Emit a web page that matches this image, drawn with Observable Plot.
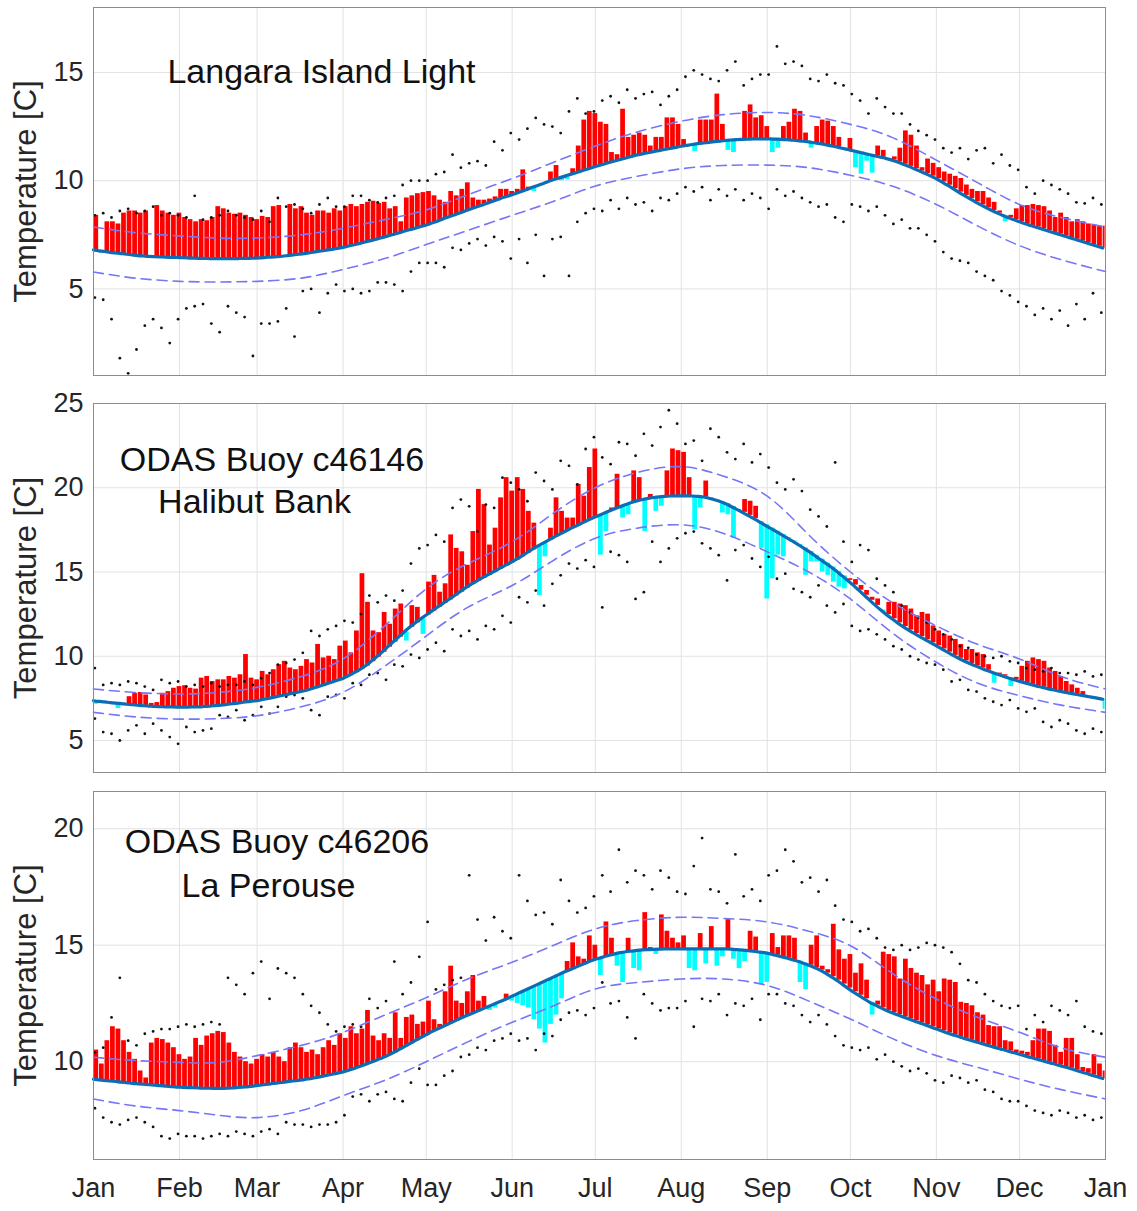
<!DOCTYPE html>
<html><head><meta charset="utf-8">
<script src="https://cdn.jsdelivr.net/npm/d3@7"></script>
<script src="https://cdn.jsdelivr.net/npm/@observablehq/plot@0.6"></script>
<style>body{margin:0;background:#fff}#chart{width:1137px}#chart svg{display:block}</style>
</head><body><div id="chart"></div>
<script>
// ---- shared axes ----
const monthDays = [0,31,59,90,120,151,181,212,243,273,304,334,365];
const monthNames = ["Jan","Feb","Mar","Apr","May","Jun","Jul","Aug","Sep","Oct","Nov","Dec","Jan"];
const dashDays = [0,15,31,45,59,75,90,105,120,135,151,166,181,196,212,227,243,258,273,288,304,319,334,349,365];
const barStep = 2;   // observed / climatology every 2 days (day 0,2,...,364)
const dotStep = 3;   // record dots every 3 days (day 0,3,...,363)

// ---- Langara Island Light ----
const langaraObs = [
8.4,null,8.1,8.1,8.0,8.5,8.6,8.6,8.5,8.6,
null,8.85,8.6,8.5,8.4,8.5,8.3,8.2,8.1,8.2,
8.15,8.3,8.8,8.7,8.5,8.45,8.5,8.4,8.3,8.2,
8.35,8.3,8.8,8.85,null,8.9,8.7,8.8,8.5,8.4,
8.6,8.6,8.5,8.7,8.6,8.8,8.9,8.8,8.9,9.0,
9.05,8.95,9.0,8.7,8.8,8.1,9.2,9.3,9.4,9.45,
9.5,9.3,9.1,9.0,9.5,9.3,9.6,9.9,9.2,9.1,
9.1,9.15,9.25,9.6,9.6,9.5,9.6,10.5,9.7,9.5,
9.8,9.9,10.4,10.7,10.0,10.05,10.55,11.6,12.8,13.2,
13.1,12.7,12.6,11.3,11.2,13.3,12.0,12.1,12.2,12.1,
11.6,12.0,12.0,12.9,12.9,12.6,11.9,11.6,11.35,12.8,
12.8,12.8,14.0,12.6,11.4,11.3,11.85,13.2,13.5,12.9,
13.0,12.5,11.3,11.5,12.5,12.7,13.3,13.2,12.2,11.5,
12.5,12.8,12.75,12.5,12.0,11.4,11.95,10.6,10.3,10.9,
10.35,11.6,11.4,11.0,11.1,11.5,12.3,12.1,11.6,10.6,
11.0,10.8,10.6,10.4,10.3,10.2,10.1,9.8,9.6,9.5,
9.5,9.2,9.0,8.6,8.1,8.4,8.7,8.85,8.85,8.9,
8.85,8.8,8.6,8.3,8.5,8.3,8.1,8.2,8.1,8.0,
7.95,7.9,7.9];
const langaraClim = [
6.80,6.76,6.73,6.69,6.66,6.63,6.60,6.57,6.54,6.52,
6.50,6.49,6.48,6.47,6.46,6.45,6.44,6.43,6.42,6.41,
6.41,6.40,6.40,6.40,6.40,6.40,6.40,6.41,6.41,6.42,
6.43,6.45,6.47,6.49,6.51,6.54,6.57,6.60,6.63,6.67,
6.71,6.75,6.79,6.83,6.87,6.92,6.98,7.04,7.10,7.17,
7.23,7.30,7.37,7.44,7.51,7.58,7.66,7.73,7.80,7.88,
7.95,8.04,8.13,8.23,8.32,8.41,8.51,8.60,8.69,8.78,
8.87,8.96,9.05,9.14,9.23,9.31,9.40,9.49,9.58,9.68,
9.77,9.86,9.96,10.05,10.13,10.21,10.29,10.37,10.45,10.53,
10.61,10.69,10.76,10.84,10.91,10.98,11.05,11.12,11.19,11.24,
11.29,11.34,11.39,11.44,11.49,11.54,11.59,11.63,11.67,11.71,
11.74,11.77,11.80,11.83,11.86,11.88,11.90,11.91,11.92,11.93,
11.93,11.93,11.93,11.92,11.91,11.89,11.87,11.85,11.82,11.79,
11.75,11.71,11.66,11.61,11.56,11.50,11.44,11.38,11.32,11.26,
11.20,11.14,11.08,11.02,10.95,10.86,10.76,10.66,10.55,10.44,
10.33,10.21,10.09,9.94,9.79,9.63,9.47,9.32,9.17,9.02,
8.88,8.75,8.62,8.50,8.39,8.29,8.19,8.10,8.01,7.93,
7.85,7.77,7.69,7.61,7.53,7.45,7.37,7.29,7.21,7.13,
7.05,6.97,6.89];
const langaraHi = [
8.4,8.5,8.3,8.6,8.7,8.5,8.6,8.8,8.4,8.5,
8.4,8.3,9.3,8.2,8.3,8.4,8.6,8.4,8.3,8.2,
8.6,8.1,9.2,8.8,8.9,8.7,8.5,8.9,9.2,8.8,
8.8,9.3,9.3,9.1,9.0,9.2,9.3,9.8,10.0,10.0,
10.0,10.3,10.4,11.2,10.6,10.8,10.9,10.7,11.8,11.4,
12.2,11.9,12.4,12.9,12.6,12.5,12.2,13.2,13.8,13.1,
13.2,13.7,13.9,13.6,14.2,13.8,14.0,14.1,13.5,13.9,
14.2,14.8,15.1,14.9,14.7,14.6,15.1,15.5,14.4,14.7,
14.9,14.9,16.2,15.4,15.5,15.3,14.7,14.6,14.9,14.5,
14.4,14.0,13.7,13.1,13.8,13.4,13.1,13.1,12.6,12.3,
12.1,11.9,11.5,11.3,11.5,11.0,11.4,11.5,10.8,11.2,
10.7,10.5,9.7,9.4,10.0,9.8,9.6,9.4,9.0,8.95,
9.2,8.9];
const langaraLo = [
4.6,4.5,3.6,1.8,1.1,2.2,3.3,3.6,3.2,2.5,
3.6,4.1,4.2,4.3,3.4,3.0,4.2,3.9,3.7,1.9,
3.4,3.4,3.5,4.1,2.8,4.9,5.0,3.9,4.8,5.2,
4.9,5.0,4.8,4.9,5.3,5.3,5.2,4.9,5.8,6.2,
6.2,6.2,6.0,6.9,6.8,7.1,7.3,7.0,7.4,7.2,
6.4,7.3,6.2,7.5,5.6,7.3,7.4,5.6,8.1,8.5,
8.7,8.6,9.1,8.7,9.2,8.9,9.0,8.6,9.2,9.1,
9.4,9.7,9.5,9.7,9.1,9.6,9.3,9.6,9.1,9.4,
9.2,8.7,9.6,9.3,9.5,9.2,9.0,8.8,8.9,8.3,
8.1,8.9,8.8,8.6,8.8,8.4,8.0,8.2,7.8,7.8,
7.5,7.2,6.7,6.4,6.3,6.2,5.8,5.6,5.4,4.9,
4.7,4.4,4.2,3.8,4.1,3.6,4.0,3.3,4.3,3.6,
4.8,3.9];
const langaraUpper = [7.86,7.6,7.45,7.35,7.35,7.5,7.8,8.2,8.65,9.35,10.1,10.85,11.6,12.25,12.75,13.05,13.15,13.0,12.6,12.0,10.95,9.9,8.9,8.3,7.86];
const langaraLower = [5.78,5.5,5.35,5.32,5.35,5.5,5.9,6.4,7.05,7.7,8.4,9.05,9.75,10.2,10.55,10.7,10.72,10.6,10.25,9.75,8.9,7.9,7.0,6.35,5.8];

// ---- ODAS Buoy c46146 Halibut Bank ----
const halibutObs = [
7.15,null,null,null,6.9,null,7.6,7.8,7.85,7.7,
7.2,7.25,7.8,7.9,8.1,8.2,8.25,8.1,8.05,8.7,
8.8,8.5,8.6,8.6,8.8,8.7,8.9,10.1,8.7,8.6,
9.1,8.9,9.2,9.5,9.7,9.3,9.2,9.4,9.8,9.6,
10.7,9.9,10.0,9.8,10.6,10.9,10.2,11.5,14.9,13.2,
11.5,11.4,12.6,11.9,12.8,13.1,10.9,13.0,12.9,11.3,
14.4,14.8,13.8,14.3,17.2,16.4,16.2,15.4,17.4,19.9,
19.0,16.6,17.6,19.4,20.6,19.8,20.6,19.9,18.6,17.9,
13.6,15.9,17.6,19.4,18.6,18.2,18.2,20.2,19.5,21.2,
22.3,16.0,17.4,18.8,20.8,18.2,18.4,21.0,20.6,17.4,
19.6,18.6,18.9,21.0,22.3,22.2,22.1,20.6,17.5,18.8,
20.4,19.4,19.2,18.5,18.4,17.0,18.6,19.3,19.2,18.9,
16.4,13.4,14.6,16.0,15.9,17.0,16.8,16.5,14.8,15.6,
15.6,15.0,14.8,14.4,14.1,14.0,14.6,14.55,14.2,13.9,
13.5,13.4,12.6,13.2,13.2,13.1,13.0,12.8,12.4,12.6,
12.5,11.8,11.5,11.3,11.2,11.0,10.7,10.4,10.4,10.2,
10.1,9.5,8.4,9.0,8.9,8.2,8.75,9.4,9.7,9.9,
9.8,9.7,9.3,9.1,8.8,8.5,8.3,8.1,7.9,7.5,
7.55,7.4,6.85];
const halibutClim = [
7.36,7.32,7.29,7.25,7.22,7.19,7.15,7.12,7.09,7.06,
7.04,7.02,7.01,7.00,6.99,6.98,6.98,6.98,6.99,7.00,
7.02,7.04,7.07,7.10,7.14,7.18,7.22,7.27,7.31,7.35,
7.40,7.46,7.53,7.60,7.67,7.74,7.81,7.88,7.95,8.04,
8.14,8.25,8.36,8.47,8.58,8.68,8.85,9.03,9.21,9.42,
9.68,9.95,10.24,10.54,10.84,11.14,11.44,11.72,11.98,12.22,
12.45,12.68,12.91,13.13,13.35,13.58,13.81,14.04,14.25,14.44,
14.63,14.81,14.99,15.17,15.35,15.52,15.70,15.90,16.11,16.32,
16.52,16.70,16.88,17.06,17.23,17.40,17.57,17.73,17.89,18.05,
18.20,18.34,18.48,18.62,18.76,18.88,19.00,19.12,19.22,19.30,
19.37,19.42,19.46,19.49,19.51,19.52,19.52,19.52,19.51,19.49,
19.45,19.38,19.29,19.18,19.05,18.89,18.72,18.54,18.36,18.18,
17.99,17.80,17.61,17.42,17.23,17.04,16.84,16.64,16.43,16.22,
15.99,15.76,15.53,15.30,15.04,14.77,14.50,14.22,13.92,13.62,
13.32,13.02,12.74,12.47,12.22,11.98,11.76,11.55,11.35,11.16,
10.98,10.80,10.62,10.43,10.24,10.05,9.88,9.72,9.57,9.43,
9.30,9.17,9.05,8.93,8.82,8.71,8.61,8.51,8.42,8.33,
8.24,8.16,8.08,8.01,7.94,7.87,7.81,7.75,7.69,7.63,
7.57,7.51,7.45];
const halibutHi = [
9.3,8.3,8.4,8.3,8.5,8.4,8.2,8.0,8.6,8.4,
8.5,8.2,8.3,8.2,8.4,8.2,8.3,8.3,8.5,8.3,
8.7,9.0,9.5,9.6,9.8,10.2,11.5,11.2,11.6,11.8,
12.1,12.0,12.5,13.6,13.2,13.6,13.3,13.9,15.5,16.4,
16.6,17.2,16.8,18.8,19.3,18.9,17.4,19.0,18.8,20.6,
20.3,19.9,19.2,20.9,20.4,19.9,21.6,21.3,20.2,22.3,
23.0,21.8,21.4,22.7,22.6,21.9,23.2,22.5,23.6,24.6,
23.8,22.6,22.8,21.6,23.5,23.0,22.1,21.7,22.6,21.5,
22.0,21.2,20.3,19.9,20.5,19.8,18.7,18.3,17.7,21.5,
16.8,15.6,16.6,16.3,14.6,14.2,13.8,13.0,12.6,12.3,
12.0,11.6,11.3,11.0,10.6,10.5,10.1,10.0,9.9,10.0,
9.7,9.6,9.3,9.2,9.1,9.3,9.0,9.0,8.9,9.1,
8.8,8.9];
const halibutLo = [
6.3,5.5,5.4,5.0,5.6,5.9,5.4,6.0,5.6,5.2,
4.8,5.8,5.5,5.6,5.7,6.5,6.4,6.8,6.2,6.5,
7.0,6.6,7.0,7.6,7.7,7.5,6.8,6.5,7.6,7.7,
7.5,8.4,8.3,8.9,9.0,8.6,9.5,9.4,10.1,9.9,
10.4,10.8,10.3,11.6,11.2,11.5,11.0,11.8,11.6,12.4,
12.0,13.5,13.2,13.9,13.0,14.3,14.8,15.5,15.2,15.7,
15.3,12.9,16.2,16.0,15.6,13.4,13.8,16.8,15.6,16.4,
17.0,17.3,17.4,16.7,16.4,16.0,14.5,16.3,16.6,15.8,
15.3,15.9,14.6,14.9,14.0,13.8,13.5,14.2,13.0,12.6,
13.1,11.8,11.5,11.6,11.3,11.0,10.6,10.4,10.0,9.8,
9.6,9.5,9.2,8.5,8.6,8.0,7.9,7.5,7.3,7.1,
7.4,6.9,6.7,6.9,6.1,5.8,6.2,6.0,5.6,5.4,
5.7,5.5];
const halibutUpper = [8.06,7.85,7.76,7.85,8.15,8.8,9.84,11.8,14.0,15.5,16.8,18.5,20.0,20.9,21.25,20.7,19.5,17.2,15.0,13.2,11.8,10.7,9.84,8.8,8.06];
const halibutLower = [6.67,6.4,6.27,6.3,6.47,7.0,7.86,9.4,11.2,12.9,14.2,15.7,17.0,17.6,17.8,17.3,16.2,15.0,13.4,11.4,9.64,8.4,7.66,7.1,6.67];

// ---- ODAS Buoy c46206 La Perouse ----
const perouseObs = [
10.5,9.9,10.9,11.5,11.4,10.9,10.4,10.1,9.6,9.3,
10.8,11.0,10.95,10.8,10.6,10.3,10.1,10.2,11.0,10.7,
11.1,11.2,11.3,11.25,10.8,10.4,10.2,10.0,9.9,10.1,
10.3,10.2,10.4,10.2,10.0,10.6,10.8,10.6,10.4,10.5,
10.3,10.6,10.9,10.7,11.2,11.0,11.5,11.2,11.4,12.2,
11.1,10.9,11.2,11.0,12.1,11.0,11.9,12.0,11.6,11.7,
12.6,11.8,11.6,13.0,14.1,12.6,12.5,13.0,13.7,12.6,
12.8,12.2,12.3,12.55,12.9,12.6,12.5,12.4,12.3,11.8,
11.4,10.8,11.6,12.0,12.7,14.3,15.1,14.5,14.4,15.4,
15.0,13.7,16.0,15.3,14.1,13.4,15.3,14.0,13.9,16.4,
14.9,14.6,16.3,15.6,15.3,15.1,15.4,14.0,13.9,15.5,
14.2,15.8,14.1,14.5,16.1,14.4,14.0,14.3,15.6,15.35,
13.3,13.4,15.5,14.9,15.4,15.4,15.3,13.4,13.1,15.0,
15.4,14.1,13.95,15.9,14.8,14.4,14.6,13.8,14.2,13.5,
12.0,12.6,14.7,14.6,14.5,13.55,14.4,14.0,13.8,13.7,
13.3,13.5,13.0,13.55,13.5,13.4,12.55,12.5,12.4,12.1,
12.0,11.55,11.5,11.5,10.9,10.85,10.5,10.45,10.4,10.9,
11.4,11.4,11.3,10.7,10.4,11.0,11.0,10.3,9.75,9.7,
10.3,9.9,9.6];
const perouseClim = [
9.25,9.22,9.20,9.17,9.15,9.12,9.10,9.07,9.05,9.03,
9.01,8.99,8.97,8.95,8.93,8.91,8.90,8.89,8.88,8.87,
8.86,8.86,8.85,8.85,8.86,8.87,8.89,8.91,8.93,8.96,
8.99,9.02,9.05,9.08,9.11,9.14,9.17,9.20,9.23,9.27,
9.31,9.36,9.41,9.46,9.51,9.56,9.63,9.71,9.79,9.88,
9.97,10.06,10.16,10.26,10.38,10.51,10.64,10.77,10.90,11.03,
11.16,11.29,11.40,11.51,11.62,11.73,11.84,11.95,12.05,12.15,
12.25,12.35,12.45,12.55,12.65,12.76,12.87,12.98,13.09,13.20,
13.31,13.42,13.53,13.64,13.75,13.86,13.96,14.06,14.16,14.26,
14.35,14.43,14.50,14.57,14.63,14.68,14.72,14.75,14.78,14.80,
14.81,14.82,14.83,14.84,14.84,14.84,14.84,14.84,14.84,14.84,
14.84,14.84,14.84,14.84,14.84,14.83,14.81,14.79,14.77,14.74,
14.71,14.68,14.63,14.57,14.51,14.45,14.38,14.31,14.23,14.14,
14.04,13.93,13.80,13.65,13.50,13.33,13.16,13.00,12.85,12.70,
12.55,12.43,12.31,12.20,12.10,12.01,11.92,11.83,11.75,11.66,
11.58,11.49,11.40,11.32,11.23,11.15,11.08,11.00,10.93,10.86,
10.79,10.72,10.65,10.58,10.52,10.45,10.38,10.32,10.25,10.18,
10.12,10.05,9.98,9.92,9.85,9.78,9.72,9.64,9.57,9.50,
9.42,9.35,9.28];
const perouseHi = [
10.4,10.6,11.9,13.6,10.9,10.7,11.2,11.3,11.4,11.4,
11.5,11.6,11.5,11.6,11.7,11.6,13.6,13.3,12.9,13.8,
14.3,12.7,14.0,13.8,13.6,12.9,12.4,12.1,11.6,11.3,
11.5,11.6,11.5,12.7,12.3,12.6,14.3,12.9,13.4,14.5,
16.0,13.1,13.3,13.5,13.6,18.0,16.1,15.2,16.2,15.6,
15.3,18.0,16.9,16.3,16.4,15.9,17.8,16.9,16.4,16.6,
17.1,18.0,17.3,19.1,17.7,18.2,18.0,17.4,18.2,17.9,
17.3,17.2,18.4,19.6,17.4,17.3,16.8,18.9,17.1,17.4,
16.9,18.0,18.2,19.1,18.6,17.7,17.9,17.3,17.8,16.7,
16.1,16.0,15.6,15.7,15.3,14.9,14.8,15.0,14.8,14.9,
15.1,15.0,14.9,14.7,14.2,13.5,13.4,12.9,12.6,12.4,
12.3,12.4,11.4,12.0,11.7,12.4,12.2,12.0,12.6,11.5,
11.3,11.2];
const perouseLo = [
8.0,7.6,7.4,7.3,7.5,7.6,7.4,7.2,6.8,6.7,
6.9,6.8,6.8,6.7,6.8,6.9,6.8,7.0,6.9,6.8,
7.0,7.1,6.9,7.4,7.3,7.3,7.2,7.3,7.3,7.4,
7.7,8.5,8.6,8.3,8.6,8.7,8.4,8.3,9.1,9.7,
9.0,9.0,9.4,9.6,10.2,10.3,10.6,10.5,10.9,11.0,
11.2,10.9,11.0,10.5,11.2,11.1,11.8,12.1,12.2,12.0,
12.3,13.4,12.5,12.6,11.9,11.0,12.9,12.5,12.2,12.3,
12.3,12.6,11.5,12.7,12.6,12.9,12.0,12.5,12.4,12.7,
11.8,12.9,12.9,12.5,12.4,12.0,11.7,12.0,11.6,11.1,
10.7,10.6,10.5,10.6,10.1,10.3,10.0,9.8,9.6,9.7,
9.5,9.2,9.1,9.4,9.3,9.1,9.2,8.8,8.7,8.4,
8.3,8.3,8.1,7.9,7.8,7.7,7.9,7.8,7.6,7.7,
7.5,7.6];
const perouseUpper = [10.19,10.05,9.97,9.97,10.26,10.7,11.26,12.0,12.75,13.55,14.27,15.0,15.7,16.06,16.2,16.15,16.0,15.6,14.98,13.8,12.69,11.9,11.26,10.6,10.19];
const perouseLower = [8.4,8.1,7.9,7.7,7.6,7.9,8.54,9.2,10.0,10.85,11.69,12.4,13.12,13.4,13.55,13.55,13.27,12.6,11.83,11.0,10.26,9.75,9.25,8.8,8.4];

const panels = [
  {title:["Langara Island Light"], titleDx:[228], titleDy:[65],
   obs:langaraObs, clim:langaraClim, hi:langaraHi, lo:langaraLo, up:langaraUpper, dn:langaraLower,
   yDomain:[1,18], yTicks:[5,10,15], height:390, mt:7, mb:15, bottom:false},
  {title:["ODAS Buoy c46146","Halibut Bank"], titleDx:[178.5,161], titleDy:[57,99],
   obs:halibutObs, clim:halibutClim, hi:halibutHi, lo:halibutLo, up:halibutUpper, dn:halibutLower,
   yDomain:[3.1,25], yTicks:[5,10,15,20,25], height:392, mt:13, mb:10, bottom:false},
  {title:["ODAS Buoy c46206","La Perouse"], titleDx:[183.5,175], titleDy:[51,95],
   obs:perouseObs, clim:perouseClim, hi:perouseHi, lo:perouseLo, up:perouseUpper, dn:perouseLower,
   yDomain:[5.8,21.6], yTicks:[10,15,20], height:429, mt:9, mb:52, bottom:true}
];

const font = "'Liberation Sans', Arial, Helvetica, sans-serif";
const root = document.getElementById("chart");

for (const p of panels) {
  const bars = p.obs.map((v, i) => ({d: i * barStep, obs: v, clim: p.clim[i]})).filter(b => b.obs != null);
  const climLine = p.clim.map((v, i) => ({d: i * barStep, v}));
  const dots = [...p.hi.map((v, i) => ({d: i * dotStep + 0.5, v})), ...p.lo.map((v, i) => ({d: i * dotStep + 0.5, v}))];
  const upper = p.up.map((v, i) => ({d: dashDays[i], v}));
  const lower = p.dn.map((v, i) => ({d: dashDays[i], v}));

  const marks = [
    Plot.gridX(monthDays, {stroke: "#e2e2e2", strokeOpacity: 1}),
    Plot.gridY(p.yTicks, {stroke: "#e2e2e2", strokeOpacity: 1}),
    Plot.rect(bars, {
      x1: "d", x2: b => Math.min(b.d + barStep, 365), y1: "clim", y2: "obs",
      fill: b => b.obs >= b.clim ? "#ff0000" : "#00ffff", insetLeft: 0.4, insetRight: 0.4
    }),
    Plot.dot(dots, {x: "d", y: "v", r: 1.4, fill: "#111", stroke: null}),
    Plot.line(upper, {x: "d", y: "v", stroke: "#7676f6", strokeWidth: 1.6, strokeDasharray: "10,6", curve: "natural"}),
    Plot.line(lower, {x: "d", y: "v", stroke: "#7676f6", strokeWidth: 1.6, strokeDasharray: "10,6", curve: "natural"}),
    Plot.line(climLine, {x: "d", y: "v", stroke: "#0b6db5", strokeWidth: 3.2, curve: "natural"}),
    Plot.frame({stroke: "#8c8c8c"}),
    Plot.axisY(p.yTicks, {tickSize: 0, tickPadding: 10, fontSize: 27, label: null, fill: "#262626"}),
    Plot.text(["Temperature [C]"], {frameAnchor: "left", textAnchor: "middle", lineAnchor: "middle", rotate: -90, dx: -67, fontSize: 31, fill: "#262626"}),
    ...p.title.map((t, i) => Plot.text([t], {frameAnchor: "top-left", dx: p.titleDx[i], dy: p.titleDy[i], fontSize: 34, textAnchor: "middle", lineAnchor: "middle", fill: "#111"}))
  ];
  if (p.bottom) {
    marks.push(Plot.axisX(monthDays, {tickSize: 0, tickPadding: 18, fontSize: 27, label: null, fill: "#262626",
      tickFormat: d => monthNames[monthDays.indexOf(d)]}));
  }
  const chart = Plot.plot({
    width: 1137, height: p.height,
    marginLeft: 93, marginRight: 32, marginTop: p.mt, marginBottom: p.mb,
    x: {domain: [0, 365], axis: null},
    y: {domain: p.yDomain, axis: null},
    style: {fontFamily: font, background: "white", overflow: "visible"},
    marks
  });
  root.appendChild(chart);
}
</script>
</body></html>
